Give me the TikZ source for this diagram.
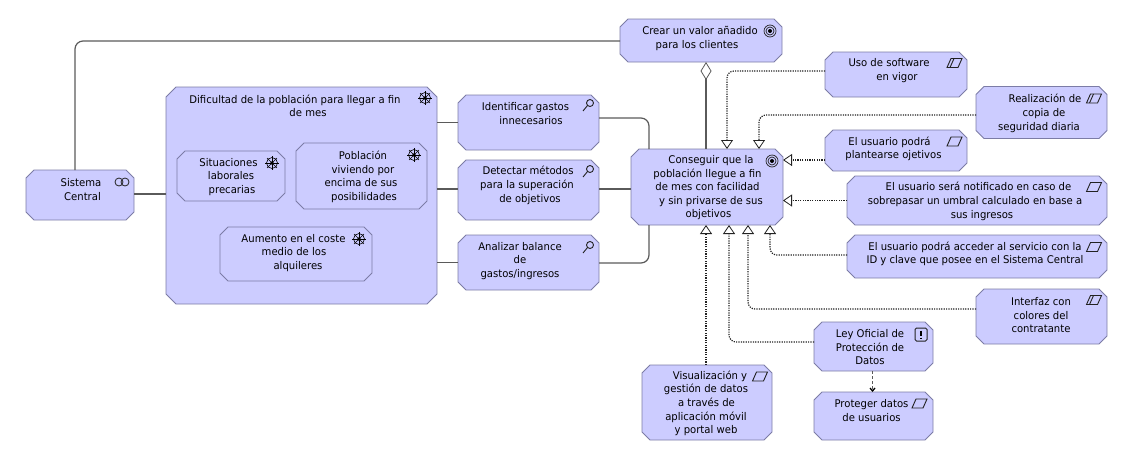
\documentclass[tikz,border=0pt]{standalone}
\usepackage{fontspec}
\usepackage{tikz}
\usetikzlibrary{arrows.meta, positioning, calc}
\setmainfont{DejaVu Sans}[FakeStretch=0.95]
\definecolor{elemfill}{HTML}{CCCCFF}
\definecolor{elemline}{HTML}{7C7CA6}
\definecolor{linkgray}{HTML}{5A5A5A}
\definecolor{darkgray}{HTML}{222222}
\pgfkeys{/pgf/octcut/.initial=8pt}
\makeatletter
\pgfdeclareshape{octbox}{
  \inheritsavedanchors[from=rectangle]
  \inheritanchorborder[from=rectangle]
  \inheritanchor[from=rectangle]{center}
  \inheritanchor[from=rectangle]{north}
  \inheritanchor[from=rectangle]{south}
  \inheritanchor[from=rectangle]{east}
  \inheritanchor[from=rectangle]{west}
  \backgroundpath{
    \pgfmathsetlength\pgfutil@tempdima{\pgfkeysvalueof{/pgf/octcut}}
    \southwest \pgf@xa=\pgf@x \pgf@ya=\pgf@y
    \northeast \pgf@xb=\pgf@x \pgf@yb=\pgf@y
    \pgfpathmoveto{\pgfqpoint{\pgf@xa}{\dimexpr\pgf@ya+\pgfutil@tempdima}}
    \pgfpathlineto{\pgfqpoint{\pgf@xa}{\dimexpr\pgf@yb-\pgfutil@tempdima}}
    \pgfpathlineto{\pgfqpoint{\dimexpr\pgf@xa+\pgfutil@tempdima}{\pgf@yb}}
    \pgfpathlineto{\pgfqpoint{\dimexpr\pgf@xb-\pgfutil@tempdima}{\pgf@yb}}
    \pgfpathlineto{\pgfqpoint{\pgf@xb}{\dimexpr\pgf@yb-\pgfutil@tempdima}}
    \pgfpathlineto{\pgfqpoint{\pgf@xb}{\dimexpr\pgf@ya+\pgfutil@tempdima}}
    \pgfpathlineto{\pgfqpoint{\dimexpr\pgf@xb-\pgfutil@tempdima}{\pgf@ya}}
    \pgfpathlineto{\pgfqpoint{\dimexpr\pgf@xa+\pgfutil@tempdima}{\pgf@ya}}
    \pgfpathclose
  }
}
\makeatother
\newcommand{\sft}[1]{\hspace*{#1pt}}
\tikzset{
  elem/.style={
    octbox, draw=elemline, fill=elemfill, line width=0.8pt, inner sep=0pt, outer sep=0pt,
  },
  dims/.style 2 args={minimum width=#1pt, minimum height=#2pt},
  txt/.style={font=\fontsize{10.6}{13.6}\selectfont, align=center, inner sep=0pt, text=black, yshift=-0.8pt},
  assoc/.style={line width=1.2pt, color=linkgray, rounded corners=8pt},
  realize/.style={dash pattern=on 1.2pt off 1.2pt, line width=1.2pt, color=darkgray, rounded corners=7pt,
    -{Triangle[open, length=9pt, width=12pt, fill=white, line width=0.8pt]}},
  aggr/.style={line width=1.2pt, color=linkgray,
    {Diamond[open, length=18pt, width=11pt, fill=white, line width=0.8pt]}-},
  influ/.style={dash pattern=on 3pt off 2pt, line width=1.3pt, color=linkgray, -{Straight Barb[length=3pt, width=5pt, color=black]}},
  pics/goalicon/.style={code={
    \draw[line width=0.7pt, darkgray] (0,0) circle (6pt) (0,0) circle (4pt);
    \fill[black] (0,0) circle (2pt);
  }},
  pics/wheelicon/.style={code={
    \draw[line width=0.6pt, black] (0,0) circle (5.5pt);
    \foreach \a in {0,45,...,315} \draw[line width=0.6pt, black] (0,0) -- (\a:7pt);
    \fill[black] (0,0) circle (1.8pt);
  }},
  pics/lensicon/.style={code={
    \draw[line width=0.9pt, darkgray] (0,0) circle (3.5pt);
    \draw[line width=0.9pt, darkgray] (-2.5,2.5) -- (-7,8);
  }},
  pics/reqicon/.style={code={
    \draw[line width=0.9pt, darkgray] (-7.5,4.5) -- (-3.5,-4.5) -- (7.5,-4.5) -- (3.5,4.5) -- cycle;
  }},
  pics/consicon/.style={code={
    \draw[line width=0.9pt, darkgray] (-7.5,4.5) -- (-3.5,-4.5) -- (7.5,-4.5) -- (3.5,4.5) -- cycle;
    \draw[line width=0.9pt, darkgray] (-4.5,4.5) -- (-0.5,-4.5);
  }},
  pics/prinicon/.style={code={
    \draw[line width=1pt, darkgray, rounded corners=1.5pt] (-6,-6.5) rectangle (6,6.5);
    \draw[line width=1.6pt, black] (0,-4) -- (0,1.5) (0,3) -- (0,4.5);
  }},
  pics/servicon/.style={code={
    \draw[line width=0.8pt, darkgray] (-3,0) circle (4pt) (3,0) circle (4pt);
  }},
}

\begin{document}
\begin{tikzpicture}[x=1pt, y=-1pt]
  \useasboundingbox (0,0) rectangle (1139,469);

  % left column
  \node[elem, dims={108}{50}, label={[txt, xshift=1pt, yshift=6.5pt]center:Sistema\\\sft{3}Central}] (sistema) at (80,195) {};
  \node[elem, dims={271}{217}, /pgf/octcut=10pt, label={[txt, xshift=-6.5pt, yshift=90.5pt]center:Dificultad de la población para llegar a fin\\\sft{26}de mes}] (dificultad) at (301.5,195.5) {};
  \node[elem, dims={108}{50}, label={[txt, xshift=-2.5pt]center:Situaciones\\\sft{5}laborales\\\sft{7}precarias}] (situaciones) at (231,176) {};
  \node[elem, dims={131}{66}, label={[txt, xshift=-0.5pt]center:\sft{4}Población\\\sft{4}viviendo por\\encima de sus\\\sft{6}posibilidades}] (poblacion) at (361.5,176) {};
  \node[elem, dims={152}{54}, label={[txt, xshift=-2.5pt, yshift=2pt]center:Aumento en el coste\\\sft{1}medio de los\\\sft{9}alquileres}] (aumento) at (296,254) {};

  % middle column
  \node[elem, dims={141}{55}, label={[txt, xshift=-3pt, yshift=9.5pt]center:Identificar gastos\\\sft{11}innecesarios}] (identificar) at (528.5,122.5) {};
  \node[elem, dims={141}{60}, below=10pt of identificar, label={[txt, xshift=-1.5pt, yshift=5.5pt]center:\sft{2}Detectar métodos\\para la superación\\\sft{6}de objetivos}] (detectar) {};
  \node[elem, dims={141}{55}, below=15pt of detectar, label={[txt, xshift=-8.5pt, yshift=2.5pt]center:Analizar balance\\de\\gastos/ingresos}] (analizar) {};

  % goals
  \node[elem, dims={162}{43}, label={[txt, xshift=-1pt, yshift=3pt]center:Crear un valor añadido\\para los clientes\sft{6}}] (crear) at (701,40.5) {};
  \node[elem, dims={152}{76}, label={[txt, xshift=0.5pt]center:\sft{7}Conseguir que la\\población llegue a fin\\de mes con facilidad\sft{8}\\\sft{7}y sin privarse de sus\\\sft{2}objetivos}] (conseguir) at (707,187) {};

  % requirements
  \node[elem, dims={142}{45}, label={[txt, xshift=-7pt, yshift=5pt]center:Uso de software\\\sft{16}en vigor}] (uso) at (896,74.5) {};
  \node[elem, dims={131}{52}, label={[txt, xshift=-2.5pt]center:\sft{12}Realización de\\\sft{10}copia de\\seguridad diaria}] (realizacion) at (1041.5,112.5) {};
  \node[elem, dims={142}{41}, label={[txt, xshift=-2.5pt, yshift=2.5pt]center:El usuario podrá\sft{8}\\plantearse ojetivos}] (plantear) at (896,150.5) {};
  \node[elem, dims={260}{49}, label={[txt, xshift=-2pt]center:\sft{7}El usuario será notificado en caso de\\sobrepasar un umbral calculado en base a\\\sft{14}sus ingresos}] (notificado) at (977,200.5) {};
  \node[elem, dims={260}{43}, below=10pt of notificado, label={[txt, xshift=-2pt, yshift=3.5pt]center:El usuario podrá acceder al servicio con la\\ID y clave que posee en el Sistema Central}] (acceso) {};
  \node[elem, dims={131}{55}, label={[txt, xshift=-0.5pt, yshift=2pt]center:Interfaz con\\colores del\\contratante}] (interfaz) at (1041.5,316.5) {};
  \node[elem, dims={119}{49}, label={[txt, xshift=-3.5pt]center:Ley Oficial de\\Protección de\\Datos}] (ley) at (873.5,346.5) {};
  \node[elem, dims={119}{48}, below=21pt of ley, label={[txt, xshift=-2pt, yshift=6pt]center:Proteger datos\\de usuarios}] (proteger) {};
  \node[elem, dims={130}{75}, label={[txt, xshift=-1pt]center:\sft{8}Visualización y\\gestión de datos\\\sft{1}a través de\\aplicación móvil\sft{6}\\y portal web}] (visualizacion) at (707,402.5) {};

  % icons
  \foreach \p in {(770,31),(772,161)} \pic at \p {goalicon};
  \foreach \p in {(425,98),(272,163),(414,155),(359,239)} \pic at \p {wheelicon};
  \foreach \p in {(590,103),(590,169),(590,245)} \pic at \p {lensicon};
  \foreach \p in {(954.5,63),(1094,98.5),(1094,300)} \pic at \p {consicon};
  \foreach \p in {(954.5,141.5),(1094,187),(1094,247),(760,376.5),(919.5,403.5)} \pic at \p {reqicon};
  \pic at (921,334.5) {prinicon};
  \pic at (122,182) {servicon};

  % connectors
  \draw[assoc] ([xshift=-5pt]sistema.north) |- ([yshift=-0.5pt]crear.west);
  \draw[assoc] ([yshift=1pt]sistema.east) -- ([yshift=1pt]sistema.east -| dificultad.west);
  \draw[assoc] (identificar.west -| dificultad.east) -- (identificar.west);
  \draw[assoc] ([yshift=1pt]detectar.west -| dificultad.east) -- ([yshift=1pt]detectar.west);
  \draw[assoc] (analizar.west -| dificultad.east) -- (analizar.west);
  \draw[assoc] ([yshift=4.5pt]identificar.east) -| ([xshift=-58pt]conseguir.north);
  \draw[assoc] ([yshift=1pt]conseguir.west |- detectar.east) -- ([yshift=1pt]detectar.east);
  \draw[assoc] ([yshift=-0.5pt]analizar.east) -| ([xshift=-58pt]conseguir.south);
  \draw[aggr] ([xshift=-1pt]crear.south -| conseguir.north) -- ([xshift=-1pt]conseguir.north);
  \draw[realize] ([yshift=3.5pt]uso.west) -| ([xshift=20pt]conseguir.north);
  \draw[realize] ([yshift=-2.5pt]realizacion.west) -| ([xshift=52pt]conseguir.north);
  \draw[realize] ([yshift=-9.5pt]plantear.west) -- ([yshift=-9.5pt]plantear.west -| conseguir.east);
  \draw[realize] (notificado.west) -- (notificado.west -| conseguir.east);
  \draw[realize] ([yshift=1.5pt]acceso.west) -| ([xshift=63pt]conseguir.south);
  \draw[realize] ([yshift=7.5pt]interfaz.west) -| ([xshift=41pt]conseguir.south);
  \draw[realize] ([yshift=4.5pt]ley.west) -| ([xshift=22pt]conseguir.south);
  \draw[realize] ([xshift=-1pt]visualizacion.north) -- ([xshift=-1pt]conseguir.south);
  \draw[influ] ([xshift=-1pt]ley.south) -- ([xshift=-1pt]proteger.north);
\end{tikzpicture}
\end{document}
